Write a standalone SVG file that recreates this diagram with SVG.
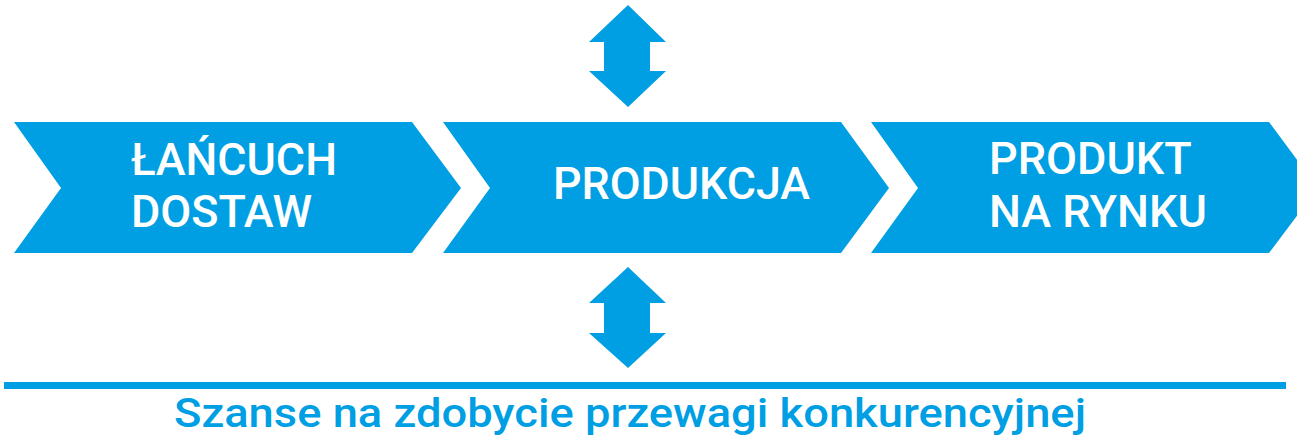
<svg xmlns="http://www.w3.org/2000/svg" width="1297" height="441" viewBox="0 0 1297 441">
<style>
.shape{fill:#009FE3}
.lbl{font-family:Roboto,"Liberation Sans",sans-serif;font-size:45px;font-weight:500;fill:#ffffff}
.cap{font-family:Roboto,"Liberation Sans",sans-serif;font-size:40px;font-weight:500;fill:#009FE3}
</style>
<rect width="1297" height="441" fill="#ffffff"/>
<g id="node-lancuch">
<polygon class="shape" points="14,122 412,122 461,188 412,253 14,253 61,188"/>
<text class="lbl" x="131" y="175" textLength="206" lengthAdjust="spacingAndGlyphs">ŁAŃCUCH</text>
<text class="lbl" x="131" y="227" textLength="181" lengthAdjust="spacingAndGlyphs">DOSTAW</text>
</g>
<g id="node-produkcja">
<polygon class="shape" points="443,122 841,122 889,188 841,253 443,253 490,188"/>
<text class="lbl" x="553" y="199" textLength="257" lengthAdjust="spacingAndGlyphs">PRODUKCJA</text>
</g>
<g id="node-produkt">
<polygon class="shape" points="871,122 1269,122 1318,188 1269,253 871,253 918,188"/>
<text class="lbl" x="989" y="174">PRODUKT</text>
<text class="lbl" x="989" y="227">NA RYNKU</text>
</g>
<g id="connectors">
<polygon class="shape" points="628,5 666,42 650,42 650,71 666,71 628,107 589,71 604,71 604,42 589,42"/>
<polygon class="shape" points="628,267 666,303 650,303 650,333 666,333 628,368 589,333 604,333 604,303 589,303"/>
</g>
<g id="footer">
<rect class="shape" x="4" y="382" width="1282" height="7"/>
<text class="cap" x="174" y="427" textLength="912" lengthAdjust="spacingAndGlyphs">Szanse na zdobycie przewagi konkurencyjnej</text>
</g>
</svg>
